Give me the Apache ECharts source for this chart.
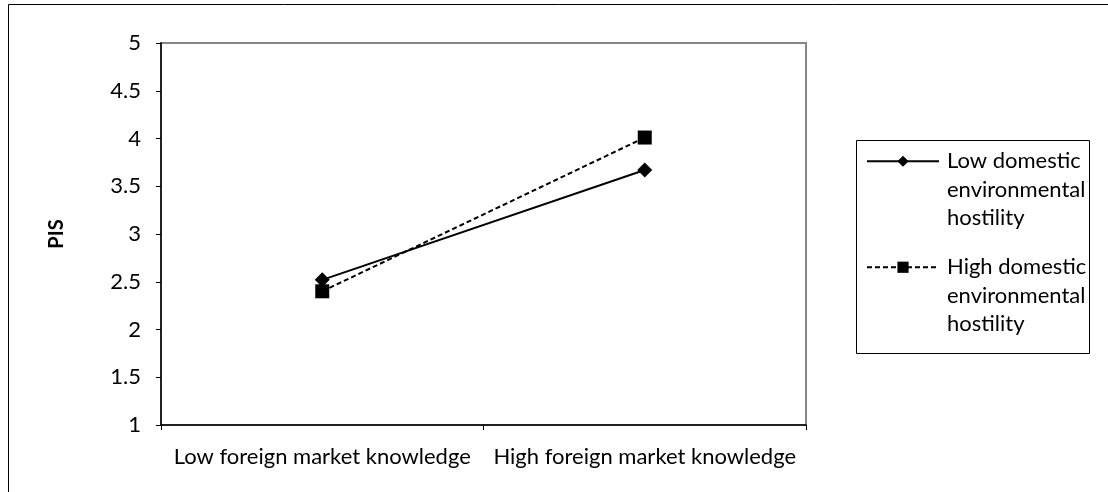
<!DOCTYPE html>
<html>
<head>
<meta charset="utf-8">
<style>
html,body{margin:0;padding:0;background:#fff;}
#chart{width:1108px;height:492px;}
</style>
<script src="https://cdn.jsdelivr.net/npm/echarts@6/dist/echarts.min.js"></script>
</head>
<body>
<div id="chart"></div>
<script>
var categories = ['Low foreign market knowledge', 'High foreign market knowledge'];
var lowHostility = [2.52, 3.67];
var highHostility = [2.40, 4.01];
var seriesNames = ['Low domestic\nenvironmental\nhostility', 'High domestic\nenvironmental\nhostility'];
var yTicks = { min: 1, max: 5, interval: 0.5 };

var FONT = 'Lato';
var FS = 22;
var LH = 28.5;
var chart = echarts.init(document.getElementById('chart'), null, { renderer: 'canvas' });
chart.setOption({
  backgroundColor: '#fff',
  animation: false,
  graphic: [{
    type: 'rect', silent: true, z: -10,
    shape: { x: 8.5, y: 4.5, width: 1200, height: 600 },
    style: { fill: '#fff', stroke: '#000', lineWidth: 1 }
  }, {
    type: 'rect', silent: true, z: 1,
    shape: { x: 856.5, y: 140.5, width: 233, height: 213 },
    style: { fill: 'transparent', stroke: '#000', lineWidth: 1 }
  }],
  grid: {
    left: 161, top: 43, right: 302, bottom: 67,
    show: true, borderColor: '#868686', borderWidth: 2, backgroundColor: 'transparent'
  },
  legend: {
    orient: 'vertical',
    left: 866, top: 90,
    padding: 0,
    itemWidth: 72, itemHeight: 14,
    itemGap: -36.5,
    formatter: function (name) { return '\n\n' + name; },
    textStyle: {
      fontFamily: FONT, fontSize: FS, color: '#000',
      lineHeight: LH, padding: [0, 0, 0, 3]
    },
    data: seriesNames
  },
  xAxis: {
    type: 'category',
    data: categories,
    boundaryGap: true,
    axisLine: { lineStyle: { color: '#000', width: 1.5 } },
    axisTick: { show: true, length: 5, lineStyle: { color: '#000' } },
    axisLabel: { fontFamily: FONT, fontSize: FS, color: '#000', margin: 21, interval: 0 },
    splitLine: { show: false }
  },
  yAxis: {
    type: 'value',
    min: yTicks.min, max: yTicks.max, interval: yTicks.interval,
    name: 'PIS',
    nameLocation: 'middle',
    nameRotate: 90,
    nameGap: 94,
    nameTextStyle: { fontFamily: FONT, fontSize: 20, fontWeight: 'bold', color: '#000' },
    axisLine: { show: true, lineStyle: { color: '#000', width: 1.5 } },
    axisTick: { show: true, length: 5, lineStyle: { color: '#000' } },
    axisLabel: { fontFamily: FONT, fontSize: FS, color: '#000', margin: 20 },
    splitLine: { show: false }
  },
  series: [{
    name: seriesNames[0],
    type: 'line',
    data: lowHostility,
    symbol: 'diamond', symbolSize: 15,
    itemStyle: { color: '#000' },
    lineStyle: { color: '#000', width: 2, type: 'solid' }
  }, {
    name: seriesNames[1],
    type: 'line',
    data: highHostility,
    symbol: 'rect', symbolSize: 14,
    itemStyle: { color: '#000' },
    lineStyle: { color: '#000', width: 2, type: [5, 3] }
  }]
});
</script>
</body>
</html>
